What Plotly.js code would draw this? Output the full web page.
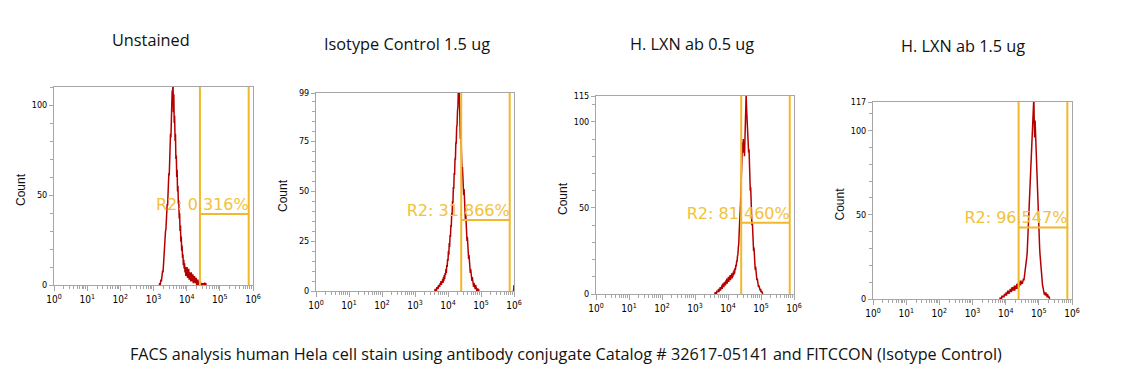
<!DOCTYPE html>
<html><head><meta charset="utf-8">
<script src="https://cdn.plot.ly/plotly-3.0.1.min.js"></script>
<style>html,body{margin:0;padding:0;background:#fff;}#chart{width:1139px;height:392px;}</style>
</head><body><div id="chart"></div>
<script>
// ---------- DATA ----------
const panelTitles = ["Unstained", "Isotype Control 1.5 ug", "H. LXN ab 0.5 ug", "H. LXN ab 1.5 ug"];
const footerText = "FACS analysis human Hela cell stain using antibody conjugate Catalog # 32617-05141 and FITCCON (Isotype Control)";
const yAxisTitle = "Count";
const yMax = [110, 99, 115, 117];
const yTickVals = [[0, 50, 100], [0, 25, 50, 75, 99], [0, 50, 100, 115], [0, 50, 100, 117]];
const yMinorStep = [10, 5, 10, 10];
const decadeExponents = [0, 1, 2, 3, 4, 5, 6];      // log10 fluorescence
const gateLow = [4.40, 4.40, 4.40, 4.39];          // log10 fluorescence
const gateHigh = [5.87, 5.87, 5.87, 5.86];
const gateLevel = [39.4, 35.5, 41.4, 42.5];
const gateLabels = ["R2: 0.316%", "R2: 31.866%", "R2: 81.460%", "R2: 96.547%"];

// histograms: event counts per channel; channels are log10(fluorescence) bins of width channelStep
const channelStep = 0.0125;
const histFirstChannel = [3.175, 3.6, 3.6, 3.825];
const unstainedCount = [0,1,0,2,3,2,5,4,8,7,12,14,17,22,24,30,31,38,37,45,44,52,53,62,61,72,74,84,82,95,92,108,103,114,96,106,90,94,80,84,70,72,60,64,52,55,45,47,37,40,30,33,24,27,19,22,15,17,11,14,9,12,7,10,5,9,6,10,4,8,5,9,3,7,4,6,2,7,3,5,2,6,1,4,2,5,1,3,1,4,0,2,1,3,0,2,1,1,0,2,0,1,0,1,1,0,1,0,0,1,1,0,1,0];
const isotypeCount = [0,1,0,1,0,2,1,2,1,3,2,3,2,4,3,5,3,5,4,6,4,7,5,8,6,9,8,11,9,13,12,16,15,20,18,24,22,28,27,33,32,39,38,45,44,52,51,59,58,66,66,74,74,82,83,90,92,100,96,102,86,90,76,80,66,70,60,62,54,57,48,51,42,45,36,39,30,33,25,27,20,22,16,18,12,14,9,11,7,9,5,7,4,5,2,4,2,3,1,3,1,2,0,1,1,0,1,0];
const lxn05Count = [0,1,0,1,0,2,1,2,1,3,1,3,2,4,2,4,3,5,3,6,4,6,4,7,5,7,5,8,6,9,6,9,7,10,7,10,8,11,8,11,9,12,9,12,10,13,11,14,12,15,14,17,16,19,19,22,23,27,29,35,38,46,50,60,64,76,78,88,84,90,82,86,80,94,98,110,116,108,102,104,92,94,82,84,72,74,60,62,50,52,40,42,32,34,25,27,19,21,14,16,11,12,8,9,6,7,4,5,3,4,2,3,1,2,1,1,0];
const lxn15Count = [0,1,0,1,0,2,1,2,1,2,1,3,2,3,2,4,2,4,3,5,3,5,3,5,4,6,4,6,4,7,5,7,5,7,5,8,5,8,6,8,6,9,6,9,7,10,7,10,8,11,8,11,9,10,9,11,10,12,11,13,13,15,16,19,21,25,28,34,38,45,50,57,62,70,75,82,86,94,98,104,108,114,120,104,96,106,98,90,84,78,70,63,55,48,42,36,30,26,22,18,15,12,10,8,7,5,5,3,3,4,2,4,2,3,1,3,1,2,1,1,0];
const histCount = [unstainedCount, isotypeCount, lxn05Count, lxn15Count];
// small pile-up of isotype events in the last channel (10^6)
const isotypeEdgeLog = [5.985, 6.0];
const isotypeEdgeCount = [0, 3];

// ---------- LAYOUT (pixel geometry) ----------
const W = 1139, H = 392;
const panelBox = [ // left, right, top, bottom in px
  [54, 253, 87, 285],
  [316, 514, 93, 291],
  [596, 794, 96, 294],
  [873, 1072, 102, 299]
];
const titlePos = [[151, 40], [407, 44], [692, 44], [963, 46]];
const footerPos = [566, 354];

const histColor = "#b40000";
const gateColor = "#f0b82a";
const labelColor = "#f2c23a";
const axisColor = "#a6a6a6";
const tickFont = {family: "Liberation Sans Narrow, DejaVu Sans Condensed, sans-serif", size: 9, color: "#000"};

const xMinor = [];
for (let d = 0; d < 6; d++) for (let k = 2; k <= 9; k++) xMinor.push(d + Math.log10(k));

const traces = [];
const layout = {
  width: W, height: H, margin: {l: 0, r: 0, t: 0, b: 0},
  paper_bgcolor: "#fff", plot_bgcolor: "#fff", showlegend: false,
  shapes: [], annotations: []
};

for (let i = 0; i < 4; i++) {
  const sfx = i === 0 ? "" : String(i + 1);
  const [l, r, t, b] = panelBox[i];
  const yMinor = [];
  for (let v = 0; v <= yMax[i]; v += yMinorStep[i]) if (!yTickVals[i].includes(v)) yMinor.push(v);

  layout["xaxis" + sfx] = {
    domain: [l / W, r / W], anchor: "y" + sfx, range: [0, 6], fixedrange: true,
    showline: true, linecolor: axisColor, linewidth: 1, mirror: true,
    showgrid: false, zeroline: false,
    tickmode: "array", tickvals: decadeExponents,
    ticktext: decadeExponents.map(e => "10<sup>" + e + "</sup>"),
    ticks: "outside", ticklen: 5, tickcolor: axisColor, tickfont: {...tickFont, size: 10},
    minor: {tickmode: "array", tickvals: xMinor, ticks: "outside", ticklen: 3, tickcolor: axisColor}
  };
  layout["yaxis" + sfx] = {
    domain: [(H - b) / H, (H - t) / H], anchor: "x" + sfx, range: [0, yMax[i]], fixedrange: true,
    showline: true, linecolor: axisColor, linewidth: 1, mirror: true,
    showgrid: false, zeroline: false,
    tickmode: "array", tickvals: yTickVals[i],
    ticks: "outside", ticklen: 4, tickcolor: axisColor, tickfont: tickFont,
    minor: {tickmode: "array", tickvals: yMinor, ticks: "outside", ticklen: 3, tickcolor: axisColor}
  };

  const counts = histCount[i];
  const channels = counts.map((_, k) => histFirstChannel[i] + k * channelStep);
  traces.push({
    type: "scatter", mode: "lines", x: channels, y: counts,
    xaxis: "x" + sfx, yaxis: "y" + sfx,
    line: {color: histColor, width: 1.5}, hoverinfo: "skip"
  });
  if (i === 1) {
    traces.push({
      type: "scatter", mode: "lines", x: isotypeEdgeLog, y: isotypeEdgeCount,
      xaxis: "x2", yaxis: "y2", line: {color: histColor, width: 1.5}, hoverinfo: "skip"
    });
  }
  traces.push({
    type: "scatter", mode: "text", x: [gateHigh[i]], y: [gateLevel[i]],
    text: [gateLabels[i]], textposition: "top left",
    textfont: {family: "DejaVu Sans, Verdana, sans-serif", size: 16, color: labelColor},
    xaxis: "x" + sfx, yaxis: "y" + sfx, hoverinfo: "skip", cliponaxis: false
  });

  const xr = "x" + sfx, yr = "y" + sfx;
  layout.shapes.push(
    {type: "line", xref: xr, yref: yr + " domain", x0: gateLow[i], x1: gateLow[i], y0: 0, y1: 1, line: {color: gateColor, width: 2}},
    {type: "line", xref: xr, yref: yr + " domain", x0: gateHigh[i], x1: gateHigh[i], y0: 0, y1: 1, line: {color: gateColor, width: 2}},
    {type: "line", xref: xr, yref: yr, x0: gateLow[i], x1: gateHigh[i], y0: gateLevel[i], y1: gateLevel[i], line: {color: gateColor, width: 2}}
  );

  layout.annotations.push({
    text: yAxisTitle, xref: "paper", yref: "paper", x: (l - 33) / W, y: (H - (t + b) / 2 - 4) / H,
    xanchor: "center", yanchor: "middle", textangle: -90, showarrow: false,
    font: {family: "Liberation Sans, Arial, sans-serif", size: 12, color: "#111"}
  });
  layout.annotations.push({
    text: panelTitles[i], xref: "paper", yref: "paper", x: titlePos[i][0] / W, y: (H - titlePos[i][1]) / H,
    xanchor: "center", yanchor: "middle", showarrow: false,
    font: {family: "Open Sans, sans-serif", size: 16.3, color: "#111"}
  });
}
layout.annotations.push({
  text: footerText, xref: "paper", yref: "paper", x: footerPos[0] / W, y: (H - footerPos[1]) / H,
  xanchor: "center", yanchor: "middle", showarrow: false,
  font: {family: "Open Sans, sans-serif", size: 16.2, color: "#111"}
});

Plotly.newPlot("chart", traces, layout, {staticPlot: true, displayModeBar: false});
</script></body></html>
